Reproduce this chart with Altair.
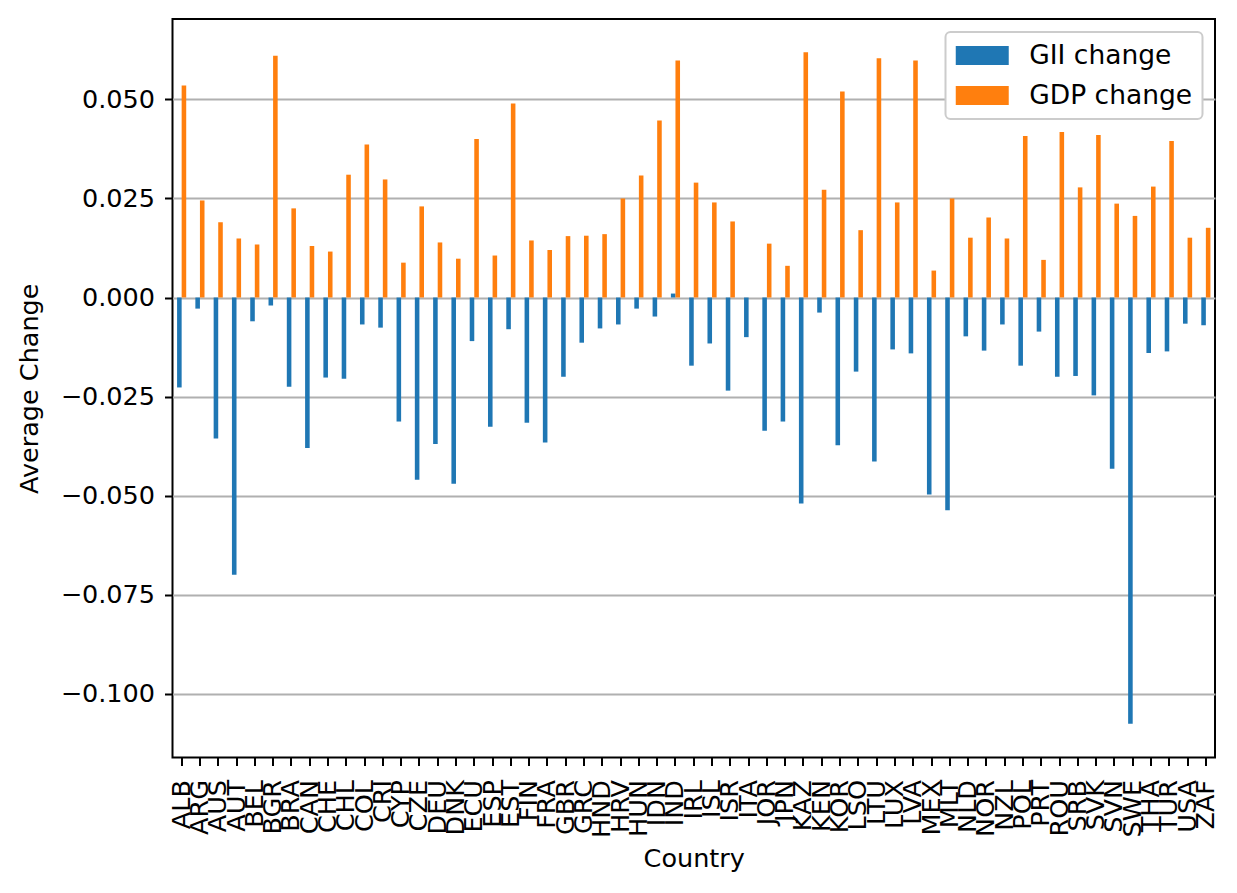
import altair as alt
import pandas as pd

countries = ["ALB","ARG","AUS","AUT","BEL","BGR","BRA","CAN","CHE","CHL",
             "COL","CRI","CYP","CZE","DEU","DNK","ECU","ESP","EST","FIN",
             "FRA","GBR","GRC","HND","HRV","HUN","IDN","IND","IRL","ISL",
             "ISR","ITA","JOR","JPN","KAZ","KEN","KOR","LSO","LTU","LUX",
             "LVA","MEX","MLT","NLD","NOR","NZL","POL","PRT","ROU","SRB",
             "SVK","SVN","SWE","THA","TUR","USA","ZAF"]

gii_change = [-0.0227,-0.0028,-0.0356,-0.0700,-0.0060,-0.0020,-0.0225,-0.0380,-0.0202,-0.0205,
              -0.0068,-0.0076,-0.0313,-0.0460,-0.0370,-0.0470,-0.0110,-0.0326,-0.0080,-0.0316,
              -0.0366,-0.0200,-0.0114,-0.0078,-0.0068,-0.0028,-0.0048,0.0010,-0.0172,-0.0116,
              -0.0235,-0.0100,-0.0336,-0.0313,-0.0520,-0.0038,-0.0373,-0.0187,-0.0414,-0.0131,
              -0.0141,-0.0497,-0.0537,-0.0098,-0.0134,-0.0068,-0.0172,-0.0086,-0.0200,-0.0198,
              -0.0247,-0.0432,-0.1076,-0.0140,-0.0136,-0.0066,-0.0070]

gdp_change = [0.0535,0.0245,0.0190,0.0149,0.0134,0.0610,0.0225,0.0130,0.0116,0.0310,
              0.0386,0.0298,0.0088,0.0230,0.0139,0.0098,0.0400,0.0106,0.0490,0.0144,
              0.0120,0.0155,0.0156,0.0160,0.0250,0.0308,0.0447,0.0598,0.0290,0.0240,
              0.0192,0.0000,0.0136,0.0080,0.0619,0.0272,0.0520,0.0170,0.0604,0.0240,
              0.0598,0.0068,0.0250,0.0151,0.0202,0.0149,0.0408,0.0095,0.0418,0.0278,
              0.0410,0.0237,0.0206,0.0280,0.0395,0.0151,0.0176]

series = ["GII change", "GDP change"]
y_ticks = [-0.1, -0.075, -0.05, -0.025, 0.0, 0.025, 0.05]

rows = []
for c, g, d in zip(countries, gii_change, gdp_change):
    rows.append({"Country": c, "series": series[0], "value": g})
    rows.append({"Country": c, "series": series[1], "value": d})
df = pd.DataFrame(rows)

font = "DejaVu Sans"
fs = 25.5

chart = alt.Chart(df).mark_bar().encode(
    x=alt.X("Country:N", sort=countries,
            scale=alt.Scale(paddingInner=0.5, paddingOuter=0.25),
            axis=alt.Axis(title="Country", labelAngle=270, labelOverlap=False,
                          labelFontSize=fs, titleFontSize=fs, labelColor="black",
                          titleColor="black", tickColor="black", tickSize=8,
                          tickWidth=2, domain=False, grid=False, labelPadding=14,
                          labelBaseline="middle", labelAlign="right",
                          titleFontWeight="normal",
                          labelFont=font, titleFont=font, titlePadding=9)),
    xOffset=alt.XOffset("series:N", sort=series,
                        scale=alt.Scale(paddingInner=0, paddingOuter=0)),
    y=alt.Y("value:Q",
            scale=alt.Scale(domain=[-0.1161, 0.0703], nice=False, zero=False),
            axis=alt.Axis(title="Average Change", values=y_ticks, format=".3f",
                          labelFontSize=fs, titleFontSize=fs, labelColor="black",
                          titleColor="black", tickColor="black", tickSize=8,
                          tickWidth=2, domain=False, grid=True, gridColor="#b0b0b0",
                          gridWidth=2, titleFontWeight="normal",
                          labelFont=font, titleFont=font, labelPadding=10,
                          titlePadding=18)),
    color=alt.Color("series:N", sort=series,
                    scale=alt.Scale(domain=series, range=["#1f77b4", "#ff7f0e"]),
                    legend=alt.Legend(title=None, orient="top-right", offset=13,
                                      fillColor="white", strokeColor="#cccccc",
                                      cornerRadius=5, padding=10,
                                      labelFontSize=26.5, labelFont=font,
                                      labelColor="black", labelLimit=400,
                                      symbolType="M-2,-0.72L2,-0.72L2,0.72L-2,0.72Z",
                                      symbolSize=702, symbolStrokeWidth=0,
                                      symbolOpacity=1, rowPadding=13,
                                      symbolOffset=13.25,
                                      labelOffset=33.5)),
).properties(
    width=1042.5, height=738.5,
    autosize=alt.AutoSizeParams(type="none"),
    padding={"left": 164.5, "top": 11, "right": 14, "bottom": 120},
    background="white",
).configure_view(
    stroke="black", strokeWidth=2
).configure_legend(
    strokeWidth=2
)

chart.save("out.html", embed_options={"renderer": "svg", "actions": False})
